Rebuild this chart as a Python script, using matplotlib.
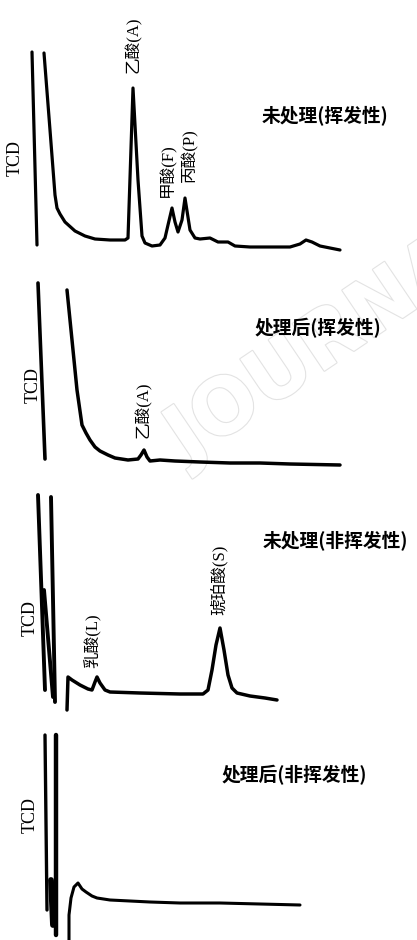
import matplotlib.pyplot as plt
import matplotlib.patheffects as pe

# retention position (px scale) and detector response above baseline
# --- untreated, volatile acids
vol_raw_front_t = [32, 37]
vol_raw_front_r = [188, -5]
vol_raw_t = [44, 50, 55, 57, 60, 65, 75, 85, 95, 110, 125, 128, 133, 138, 142, 145, 152, 160, 165, 168,
             172, 175, 178, 182, 185, 190, 195, 200, 210, 218, 228, 235, 250, 270, 290, 300, 306, 312, 320, 330, 340]
vol_raw_r = [187, 110, 45, 32, 26, 18, 9, 4, 1, 0, 0, 2, 152, 60, 4, -3, -6, -5, 2, 15,
             32, 18, 8, 20, 42, 10, 2, 1, 2, -2, -2, -6, -7, -7, -7, -4, 0, -2, -6, -8, -10]

# --- treated, volatile acids
vol_trt_front_t = [38, 45]
vol_trt_front_r = [177, 1]
vol_trt_t = [67, 72, 77, 82, 86, 90, 95, 100, 108, 115, 128, 138, 141, 144, 147, 150, 160, 175, 200, 230, 260, 290, 340]
vol_trt_r = [170, 120, 70, 35, 27, 20, 13, 9, 5, 2, 0, 1, 5, 10, 3, -1, 0, -1, -2, -3, -3, -4, -5]

# --- untreated, non-volatile acids
nv_raw_front = [([38, 45], [198, 3]), ([51, 55], [196, -9]), ([44, 53], [103, -4])]
nv_raw_t = [67, 68, 72, 80, 88, 92, 95, 97, 100, 105, 110, 140, 180, 203, 208, 212, 216, 220, 224, 228, 232, 237, 250, 265, 277]
nv_raw_r = [-17, 16, 13, 8, 4, 3, 11, 16, 10, 3, 1, 0, -1, -1, 3, 23, 48, 65, 43, 18, 5, 0, -3, -5, -7]

# --- treated, non-volatile acids
nv_trt_front = [([45, 47], [167, -8]), ([56, 56], [167, -33]), ([51, 53], [22, -23])]
nv_trt_t = [69, 69, 71, 74, 78, 82, 86, 92, 97, 110, 130, 150, 180, 220, 260, 300]
nv_trt_r = [-38, -13, 4, 15, 19, 13, 10, 6, 4, 2, 1, 0, -1, -1, -2, -3]

W, H = 417, 940
fig = plt.figure(figsize=(W / 100, H / 100), dpi=100)
fig.patch.set_facecolor('white')

cjk = ['Noto Sans CJK SC', 'DejaVu Sans']
serif_cjk = ['Liberation Serif', 'Noto Sans CJK SC']


def panel(top, bottom, base):
    # one chromatogram strip; base = pixel row of the baseline
    ax = fig.add_axes([0, 1 - bottom / H, 1, (bottom - top) / H])
    ax.set_xlim(0, W)
    ax.set_ylim(base - bottom, base - top)
    ax.axis('off')
    return ax


def trace(ax, t, r, lw=2.3):
    ax.plot(t, r, color='black', lw=lw, solid_capstyle='round', solid_joinstyle='round', clip_on=False)


def peak_label(ax, x, y, s):
    ax.text(x, y, s, rotation=90, ha='center', va='bottom', fontsize=12,
            family=serif_cjk, color='black')


def tcd(ax, x, y):
    ax.text(x, y, 'TCD', rotation=90, ha='center', va='center', fontsize=13,
            family='Liberation Serif', color='black')


def title(ax, x, y, s):
    ax.text(x, y, s, ha='left', va='center', fontsize=13.5, family=cjk,
            fontweight='bold', color='black')


# faint watermark behind the traces
fig.text(175 / W, 1 - 445 / H, 'JOURNAL', rotation=34, rotation_mode='anchor',
         ha='left', va='center', fontsize=56, family='DejaVu Sans', fontweight='bold',
         color='white', zorder=-1,
         path_effects=[pe.withStroke(linewidth=1.6, foreground='#e3e3e3')])

# 1: untreated volatile
ax1 = panel(0, 260, 240)
trace(ax1, vol_raw_front_t, vol_raw_front_r)
trace(ax1, vol_raw_t, vol_raw_r)
tcd(ax1, 15, 240 - 158)
peak_label(ax1, 133, 152 + 15, '乙酸(A)')
peak_label(ax1, 168, 32 + 11, '甲酸(F)')
peak_label(ax1, 190, 42 + 16, '丙酸(P)')
title(ax1, 262, 240 - 115, '未处理(挥发性)')

# 2: treated volatile
ax2 = panel(260, 480, 460)
trace(ax2, vol_trt_front_t, vol_trt_front_r, 2.6)
trace(ax2, vol_trt_t, vol_trt_r, 2.5)
tcd(ax2, 33, 460 - 385)
peak_label(ax2, 143, 10 + 12, '乙酸(A)')
title(ax2, 255, 460 - 328, '处理后(挥发性)')

# 3: untreated non-volatile
ax3 = panel(480, 720, 693)
for t, r in nv_raw_front:
    trace(ax3, t, r, 2.8)
trace(ax3, nv_raw_t, nv_raw_r, 2.5)
tcd(ax3, 30, 693 - 618)
peak_label(ax3, 93, 16 + 9, '乳酸(L)')
peak_label(ax3, 219, 65 + 13, '琥珀酸(S)')
title(ax3, 263, 693 - 540, '未处理(非挥发性)')

# 4: treated non-volatile
ax4 = panel(720, 940, 902)
trace(ax4, nv_trt_front[0][0], nv_trt_front[0][1], 2.4)
trace(ax4, nv_trt_front[1][0], nv_trt_front[1][1], 3.2)
trace(ax4, nv_trt_front[2][0], nv_trt_front[2][1], 4.2)
trace(ax4, nv_trt_t, nv_trt_r, 2.2)
tcd(ax4, 30, 902 - 815)
title(ax4, 222, 902 - 775, '处理后(非挥发性)')

fig.savefig('out.png', dpi=100, facecolor='white')
